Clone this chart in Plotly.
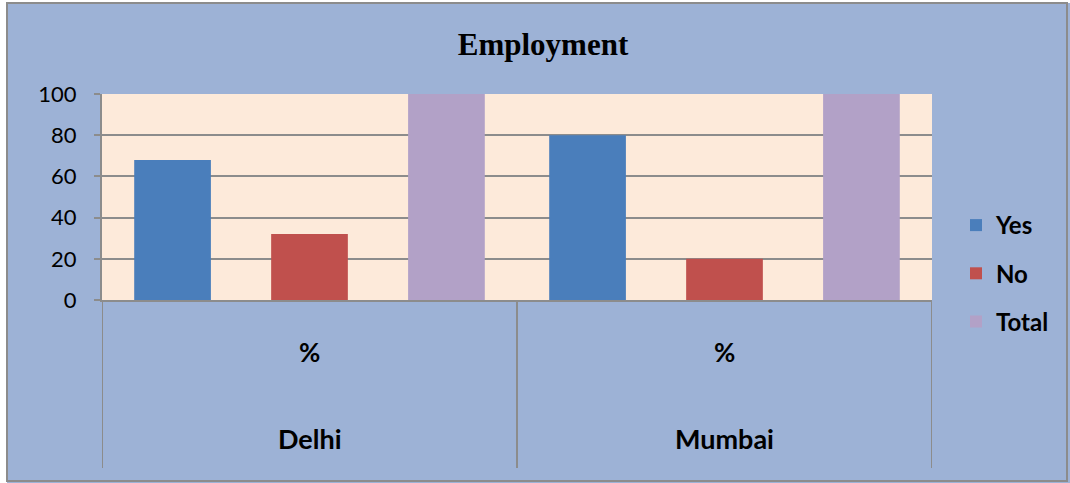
import plotly.graph_objects as go

cities = ["Delhi", "Mumbai"]
sub_label = "%"
series_names = ["Yes", "No", "Total"]
yes_vals = [68, 80]
no_vals = [32, 20]
total_vals = [100, 100]
y_ticks = [0, 20, 40, 60, 80, 100]
colors = ["#4A7EBB", "#C0504D", "#B2A1C7"]

series_vals = [yes_vals, no_vals, total_vals]

fig = go.Figure()
for i, (name, vals) in enumerate(zip(series_names, series_vals)):
    fig.add_trace(go.Bar(
        x=cities, y=vals, name=name, marker_color=colors[i],
        marker_line_width=0, legendgroup=name,
    ))

grid_col = "#8C8C8C"
W, H = 1070, 483
L, R, T, B = 102, 932, 94, 300

def px_x(p):
    return (p - L) / (R - L)

def px_y(p):
    return (B - p) / (B - T)

shapes = []
for xv in [-0.5, 0.5, 1.5]:
    shapes.append(dict(type="line", xref="x", yref="paper", x0=xv, x1=xv,
                       y0=0, y1=px_y(468), line=dict(color=grid_col, width=2)))
shapes.append(dict(type="rect", xref="paper", yref="paper", x0=px_x(-2), x1=px_x(7),
                   y0=px_y(485), y1=px_y(-2), fillcolor="white", line_width=0, layer="above"))
shapes.append(dict(type="rect", xref="paper", yref="paper", x0=px_x(-2), x1=px_x(1072),
                   y0=px_y(3), y1=px_y(-2), fillcolor="white", line_width=0, layer="above"))
shapes.append(dict(type="rect", xref="paper", yref="paper", x0=px_x(7), x1=px_x(1067),
                   y0=px_y(481), y1=px_y(3), fillcolor="rgba(0,0,0,0)",
                   line=dict(color="#8C8C8C", width=2), layer="above"))

annotations = []
for c in cities:
    annotations.append(dict(x=c, xref="x", yref="paper", y=px_y(352), text="<b>%s</b>" % sub_label,
                            showarrow=False, font=dict(family="Lato", size=26, color="black"),
                            xanchor="center", yanchor="middle"))
    annotations.append(dict(x=c, xref="x", yref="paper", y=px_y(438), text="<b>%s</b>" % c,
                            showarrow=False, font=dict(family="Lato", size=27, color="black"),
                            xanchor="center", yanchor="middle"))

fig.update_layout(
    width=W, height=H,
    margin=dict(l=L, r=W - R, t=T, b=H - B, pad=0),
    paper_bgcolor="#9DB2D6",
    plot_bgcolor="#FDEADA",
    barmode="group", bargap=0.01, bargroupgap=0.44,
    title=dict(text="<b>Employment</b>", x=543 / W, xanchor="center",
               y=1 - 44 / H, yanchor="middle",
               font=dict(family="Liberation Serif", size=31, color="black")),
    xaxis=dict(type="category", range=[-0.5, 1.5], showticklabels=False, ticks="",
               showgrid=False, showline=True, linecolor=grid_col, linewidth=2, zeroline=False),
    yaxis=dict(range=[0, 100], tickvals=y_ticks, showgrid=True, gridcolor=grid_col, gridwidth=2,
               showline=True, linecolor=grid_col, linewidth=2, ticks="outside", ticklen=6,
               tickcolor=grid_col, tickwidth=2, zeroline=False, ticklabelstandoff=13,
               tickfont=dict(family="Lato", size=22, color="black")),
    legend=dict(x=px_x(956), xanchor="left", y=px_y(203), yanchor="top",
                font=dict(family="Lato", size=24, color="black", weight="bold"),
                bgcolor="rgba(0,0,0,0)", tracegroupgap=14, traceorder="grouped",
                itemwidth=30),
    shapes=shapes, annotations=annotations,
    showlegend=True,
)

fig.write_html("out.html", config={"displayModeBar": False},
               post_script="document.body.style.margin='0px';")
